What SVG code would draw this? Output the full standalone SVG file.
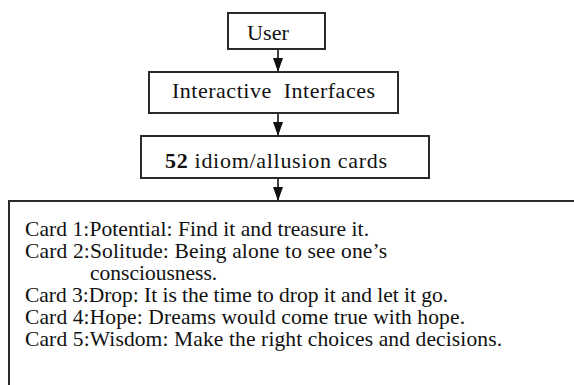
<svg xmlns="http://www.w3.org/2000/svg" width="574" height="385" viewBox="0 0 574 385">
<style>
.box{fill:#fff;stroke:#2a2a2a;stroke-width:2}
.t{font-family:"Liberation Serif","Times New Roman",serif;fill:#111}
.bt{font-size:22px;text-anchor:middle}
.ct{font-size:21.5px}
.conn{stroke:#111;stroke-width:1.6;fill:none}
</style>
<defs>
<marker id="ah" markerWidth="14" markerHeight="12" refX="14" refY="6" orient="auto" markerUnits="userSpaceOnUse">
<path d="M0,1 L14,6 L0,11 Z" fill="#111"/>
</marker>
</defs>
<rect width="574" height="385" fill="#fff"/>
<g id="connectors">
<line class="conn" x1="278" y1="50" x2="278" y2="72" marker-end="url(#ah)"/>
<line class="conn" x1="278" y1="113" x2="278" y2="136" marker-end="url(#ah)"/>
<line class="conn" x1="278" y1="178" x2="278" y2="201" marker-end="url(#ah)"/>
</g>
<g id="user">
<rect class="box" x="228" y="13" width="97" height="36"/>
<text class="t bt" x="268" y="40" textLength="42" lengthAdjust="spacingAndGlyphs">User</text>
</g>
<g id="interfaces">
<rect class="box" x="149" y="72" width="249" height="41"/>
<text class="t bt" x="273.5" y="98" textLength="203" xml:space="preserve">Interactive  Interfaces</text>
</g>
<g id="cards">
<rect class="box" x="141" y="136" width="288" height="42"/>
<text class="t bt" x="276" y="168" textLength="222"><tspan font-weight="bold">52</tspan> idiom/allusion cards</text>
</g>
<g id="card-list">
<rect class="box" x="9" y="201" width="600" height="250"/>
<text class="t ct" x="25" y="236" textLength="344">Card 1:Potential: Find it and treasure it.</text>
<text class="t ct" x="25" y="258" textLength="362">Card 2:Solitude: Being alone to see one’s</text>
<text class="t ct" x="90" y="280">consciousness.</text>
<text class="t ct" x="25" y="302" textLength="423">Card 3:Drop: It is the time to drop it and let it go.</text>
<text class="t ct" x="25" y="324" textLength="440">Card 4:Hope: Dreams would come true with hope.</text>
<text class="t ct" x="25" y="346" textLength="477">Card 5:Wisdom: Make the right choices and decisions.</text>
</g>
</svg>
